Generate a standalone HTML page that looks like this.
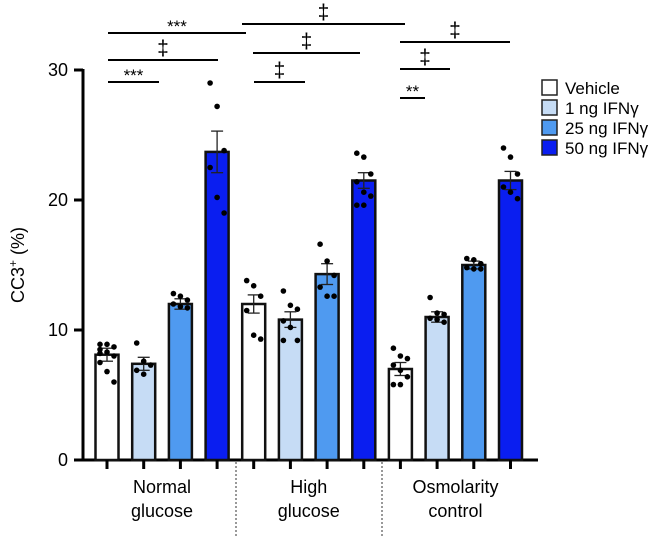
<!DOCTYPE html>
<html><head><meta charset="utf-8"><style>
body{margin:0;background:#fff;font-family:"Liberation Sans",sans-serif}
</style></head><body>
<svg id="c" width="660" height="536" xmlns="http://www.w3.org/2000/svg" font-family="Liberation Sans, sans-serif"></svg>
<script>
const groups=["Normal\nglucose","High\nglucose","Osmolarity\ncontrol"];
const series=["Vehicle","1 ng IFNγ","25 ng IFNγ","50 ng IFNγ"];
const colors=["#ffffff","#c6dcf5","#4f9af0","#0a1ef0"];
const means=[[8.1,7.4,12.0,23.7],[12.0,10.8,14.3,21.5],[7.0,11.0,15.0,21.5]];
const sems=[[0.5,0.5,0.4,1.6],[0.7,0.6,0.8,0.6],[0.5,0.4,0.3,0.7]];
const dots=[
 [[8.9,8.9,8.7,8.5,8.3,8.0,7.5,6.8,6.0,8.2],[9.0,7.6,7.3,6.9,6.6],[12.8,12.6,12.3,12.0,11.8,11.7],[29.0,27.2,23.8,22.5,20.2,19.0]],
 [[13.8,13.4,12.6,11.5,9.6,9.3],[13.0,11.9,11.6,10.7,10.2,9.2,9.2],[16.6,15.3,14.2,13.3,12.6,12.6],[23.6,23.3,22.0,21.4,20.6,20.3,19.6,19.6]],
 [[8.6,8.0,7.8,7.3,6.9,6.4,5.8,5.8],[12.5,11.3,11.2,10.9,10.8,10.6],[15.5,15.4,15.1,14.8,14.7,14.7],[24.0,23.3,22.0,21.0,20.6,20.1]]
];
const yTicks=[0,10,20,30];
const sig=[ // [x1,x2,yPix,label]
 [108,246,33,"***"],[108,218,60,"‡"],[108,159,82,"***"],
 [242,405,24,"‡"],[253,360,53,"‡"],[254,305,82,"‡"],
 [400,510,42,"‡"],[400,450,69,"‡"],[400,425,98,"**"]
];
const svg=document.getElementById('c');
const NS="http://www.w3.org/2000/svg";
function el(t,a,p){const e=document.createElementNS(NS,t);for(const k in a)e.setAttribute(k,a[k]);(p||svg).appendChild(e);return e;}
const y0=460,pxU=13;
const Y=v=>y0-v*pxU;
const X=(g,s)=>107+g*146.7+s*36.7;
const bw=23;
let ax=el('line',{x1:83,y1:Y(30)-1,x2:83,y2:y0+1,stroke:'#000','stroke-width':3});


yTicks.forEach(t=>{
 el('line',{x1:74,x2:83,y1:Y(t),y2:Y(t),stroke:'#000','stroke-width':3});
 const tx=el('text',{x:68,y:Y(t)+6,'text-anchor':'end','font-size':18});tx.textContent=t;
 
 
});
let yt=el('text',{transform:'translate(24,265) rotate(-90)','text-anchor':'middle','font-size':18});
yt.innerHTML='CC3<tspan font-size="12" dy="-7">+</tspan><tspan dy="7"> (%)</tspan>';


let xl=el('line',{x1:82,x2:538,y1:y0,y2:y0,stroke:'#000','stroke-width':3});


[236,382].forEach(x=>{el('line',{x1:x,x2:x,y1:y0+2,y2:536,stroke:'#333','stroke-width':1,'stroke-dasharray':'2,2'});});
means.forEach((gm,g)=>{
 gm.forEach((m,s)=>{
  const cx=X(g,s);
  const r=el('rect',{x:cx-bw/2,y:Y(m),width:bw,height:y0-Y(m),fill:colors[s],stroke:'#111','stroke-width':2.5});
  
  
  el('line',{x1:cx,x2:cx,y1:y0,y2:y0+9,stroke:'#000','stroke-width':3});
  const e=sems[g][s];
  el('line',{x1:cx,x2:cx,y1:Y(m+e),y2:Y(m-e),stroke:'#222','stroke-width':1.3});
  el('line',{x1:cx-6,x2:cx+6,y1:Y(m+e),y2:Y(m+e),stroke:'#222','stroke-width':1.3});
  el('line',{x1:cx-6,x2:cx+6,y1:Y(m-e),y2:Y(m-e),stroke:'#222','stroke-width':1.3});
  const ds=dots[g][s];
  ds.forEach((d,i)=>{
   const off=ds.length>1?((i%3)-1)*7:0;
   const c=el('circle',{cx:cx+off,cy:Y(d),r:2.8,fill:'#000'});
   
   
  });
 });
 const lines=groups[g].split("\n");
 const gx=(X(g,0)+X(g,3))/2;
 lines.forEach((l,i)=>{const t=el('text',{x:gx,y:493+i*24,'text-anchor':'middle','font-size':18});t.textContent=l;
  
  });
});
sig.forEach(s=>{
 el('line',{x1:s[0],x2:s[1],y1:s[2],y2:s[2],stroke:'#000','stroke-width':2});
 const t=el('text',{x:(s[0]+s[1])/2,y:s[3]==="‡"?s[2]-5:s[2]-1,'text-anchor':'middle','font-size':s[3]==="‡"?21:17});
 t.textContent=s[3];
 
 
});
series.forEach((n,i)=>{
 const r=el('rect',{x:542,y:80+i*20,width:15,height:15,fill:colors[i],stroke:'#222','stroke-width':1.5});
 
 
 const t=el('text',{x:565,y:94+i*20,'font-size':17});t.textContent=n;
 
 
});
</script>
</body></html>
